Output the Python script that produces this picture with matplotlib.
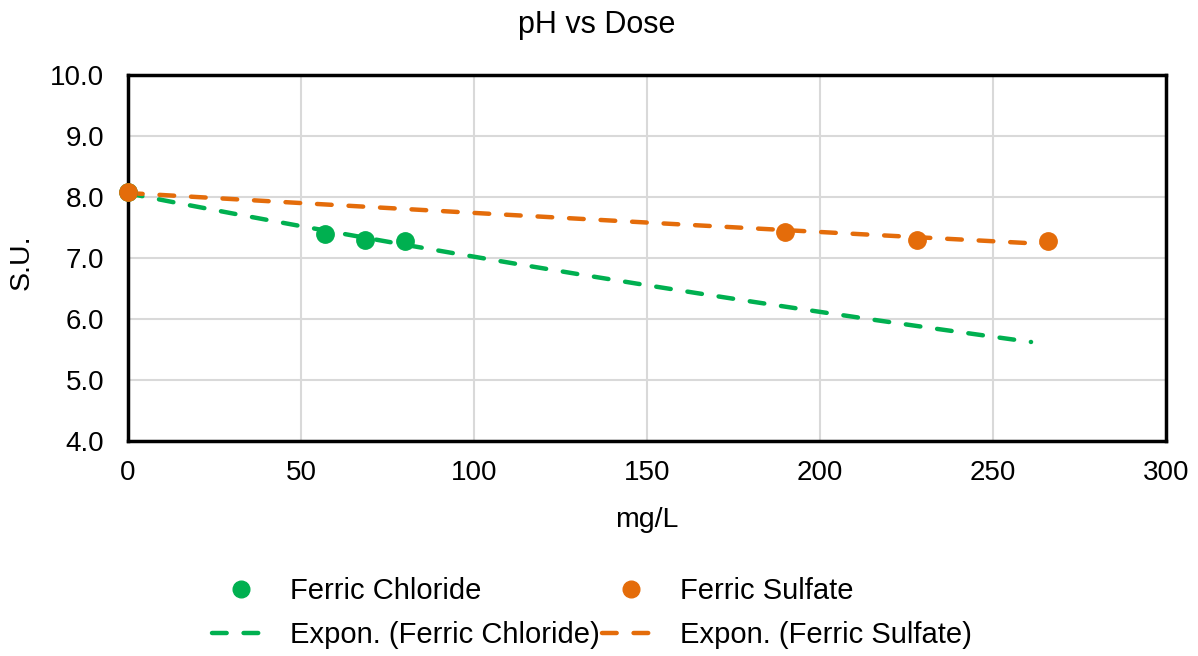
import numpy as np
import matplotlib
matplotlib.use("Agg")
import matplotlib.pyplot as plt
from matplotlib.lines import Line2D

plt.rcParams['font.family'] = ['Liberation Sans', 'DejaVu Sans']

chloride_dose = [0, 57, 68.5, 80]
chloride_ph = [8.08, 7.40, 7.30, 7.28]
sulfate_dose = [0, 190, 228, 266]
sulfate_ph = [8.08, 7.43, 7.30, 7.28]
chloride_trend_end = 261
sulfate_trend_end = 266

green = '#00B050'
orange = '#E46C0A'
LW = 3.2
DASH = (3.3, 3.8)

fig = plt.figure(figsize=(11.98, 6.56), dpi=100)
ax = fig.add_axes([128/1198, 1-441/656, (1166-128)/1198, (441-75)/656])

def expfit(x, y, xend):
    b, lna = np.polyfit(np.asarray(x, float), np.log(np.asarray(y, float)), 1)
    xs = np.linspace(0, xend, 200)
    return xs, np.exp(lna) * np.exp(b * xs)

xs, ys = expfit(chloride_dose, chloride_ph, chloride_trend_end)
ax.plot(xs, ys, color=green, lw=LW, dashes=DASH, dash_capstyle='round', zorder=3)
xs, ys = expfit(sulfate_dose, sulfate_ph, sulfate_trend_end)
ax.plot(xs, ys, color=orange, lw=LW, dashes=DASH, dash_capstyle='round', zorder=3)

ax.plot(chloride_dose, chloride_ph, 'o', color=green, ms=12.5, zorder=4, clip_on=False)
ax.plot(sulfate_dose, sulfate_ph, 'o', color=orange, ms=12.5, zorder=5, clip_on=False)

ax.set_xlim(0, 300)
ax.set_ylim(4, 10)
ax.set_xticks(np.arange(0, 301, 50))
ax.set_yticks(np.arange(4, 10.01, 1))
ax.set_yticklabels([f"{v:.1f}" for v in np.arange(4, 10.01, 1)])
ax.grid(True, color='#D9D9D9', lw=1.5)
ax.set_axisbelow(True)
for s in ax.spines.values():
    s.set_color('black')
    s.set_linewidth(2.5)
ax.tick_params(length=0, labelsize=20)
ax.tick_params(axis='y', pad=17)
ax.tick_params(axis='x', pad=14)

fig.text(647/1198, 1-520/656, 'mg/L', ha='center', va='center', fontsize=20.5)
fig.text(22/1198, 1-262/656, 'S.U.', ha='center', va='center', rotation=90, fontsize=20.5)
fig.text(597/1198, 1-25/656, 'pH vs Dose', ha='center', va='center', fontsize=22)

handles = [
    Line2D([], [], ls='none', marker='o', color=green, ms=12),
    Line2D([], [], color=green, lw=LW, dashes=DASH, dash_capstyle='round'),
    Line2D([], [], ls='none', marker='o', color=orange, ms=12),
    Line2D([], [], color=orange, lw=LW, dashes=DASH, dash_capstyle='round'),
]
labels = ['Ferric Chloride', 'Expon. (Ferric Chloride)', 'Ferric Sulfate', 'Expon. (Ferric Sulfate)']
fig.legend(handles, labels, ncol=2, loc='center', bbox_to_anchor=(592/1198, 1-613/656),
           frameon=False, fontsize=21, handlelength=2.0, columnspacing=0.05,
           labelspacing=0.55, handletextpad=0.7, borderpad=0)

fig.savefig('out.png', dpi=100)
